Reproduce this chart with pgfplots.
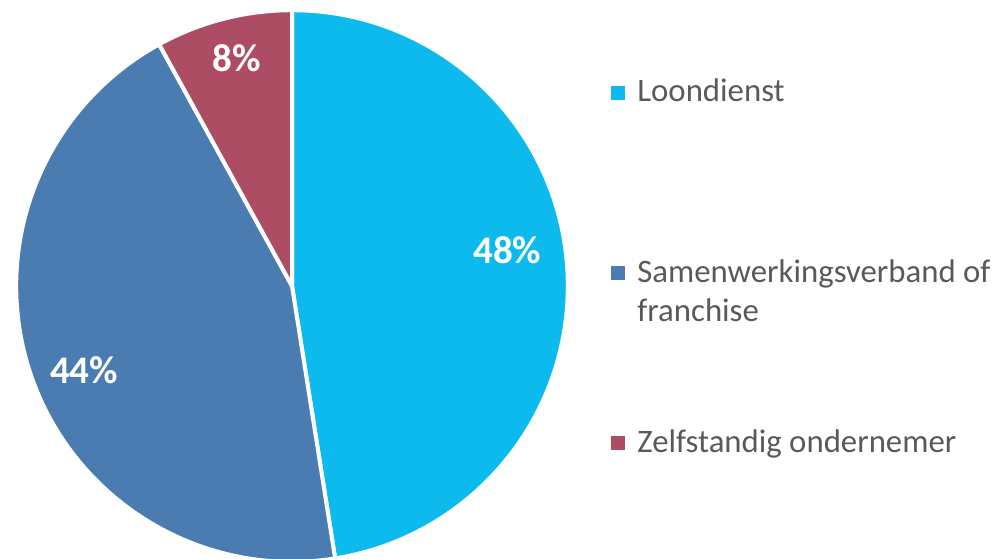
\documentclass[border=0pt]{standalone}
\usepackage{pgfplots}
\pgfplotsset{compat=1.18}
\usepackage{pgfplotstable}
\usepackage{fontspec}
\setmainfont{Carlito}
\definecolor{cLoon}{RGB}{13,186,238}
\definecolor{cSamen}{RGB}{74,124,178}
\definecolor{cZelf}{RGB}{172,77,99}
\definecolor{txt}{RGB}{89,89,89}
\pgfplotstableread{
share
47.5
44.5
8
}\piedata
\begin{document}
\begin{tikzpicture}
\useasboundingbox (0,0) rectangle (499.5pt,279pt);
\pgfplotstablegetelem{0}{share}\of\piedata \edef\va{\pgfplotsretval}
\pgfplotstablegetelem{1}{share}\of\piedata \edef\vb{\pgfplotsretval}
\pgfplotstablegetelem{2}{share}\of\piedata \edef\vc{\pgfplotsretval}
\pgfmathsetmacro{\aA}{90}
\pgfmathsetmacro{\aB}{90-3.6*\va}
\pgfmathsetmacro{\aC}{\aB-3.6*\vb}
\pgfmathsetmacro{\aD}{\aC-3.6*\vc}
\def\R{137.9pt}
\begin{axis}[hide axis, x=137pt, y=137pt, xmin=-1, xmax=1, ymin=-1, ymax=1,
  anchor=origin, at={(146pt,136pt)}, clip=false]
\fill[cLoon, draw=white, line width=2pt, line join=round] (axis cs:0,0) -- ++(\aA:\R) arc[start angle=\aA, end angle=\aB, radius=\R] -- cycle;
\fill[cSamen, draw=white, line width=2pt, line join=round] (axis cs:0,0) -- ++(\aB:\R) arc[start angle=\aB, end angle=\aC, radius=\R] -- cycle;
\fill[cZelf, draw=white, line width=2pt, line join=round] (axis cs:0,0) -- ++(\aC:\R) arc[start angle=\aC, end angle=\aD, radius=\R] -- cycle;
\node[white, font=\bfseries\fontsize{19.5}{22}\selectfont] at (axis cs:0.786,0.130) {48\%};
\node[white, font=\bfseries\fontsize{19.5}{22}\selectfont] at (axis cs:-0.759,-0.307) {44\%};
\node[white, font=\bfseries\fontsize{19.5}{22}\selectfont] at (axis cs:-0.201,0.832) {8\%};
\end{axis}
\begin{scope}[font=\fontsize{16.4}{19.5}\selectfont, text=txt]
\fill[cLoon] (309pt,232.5pt) ++(-3.5pt,-3.5pt) rectangle ++(7pt,7pt);
\fill[cSamen] (309pt,142.5pt) ++(-3.5pt,-3.5pt) rectangle ++(7pt,7pt);
\fill[cZelf] (309pt,57.5pt) ++(-3.5pt,-3.5pt) rectangle ++(7pt,7pt);
\node[anchor=base west, inner sep=0pt] at (318.5pt,228pt) {Loondienst};
\node[anchor=base west, inner sep=0pt] at (318.5pt,138pt) {Samenwerkingsverband of};
\node[anchor=base west, inner sep=0pt] at (318.5pt,118.5pt) {franchise};
\node[anchor=base west, inner sep=0pt] at (318.5pt,53pt) {Zelfstandig ondernemer};
\end{scope}
\end{tikzpicture}
\end{document}
